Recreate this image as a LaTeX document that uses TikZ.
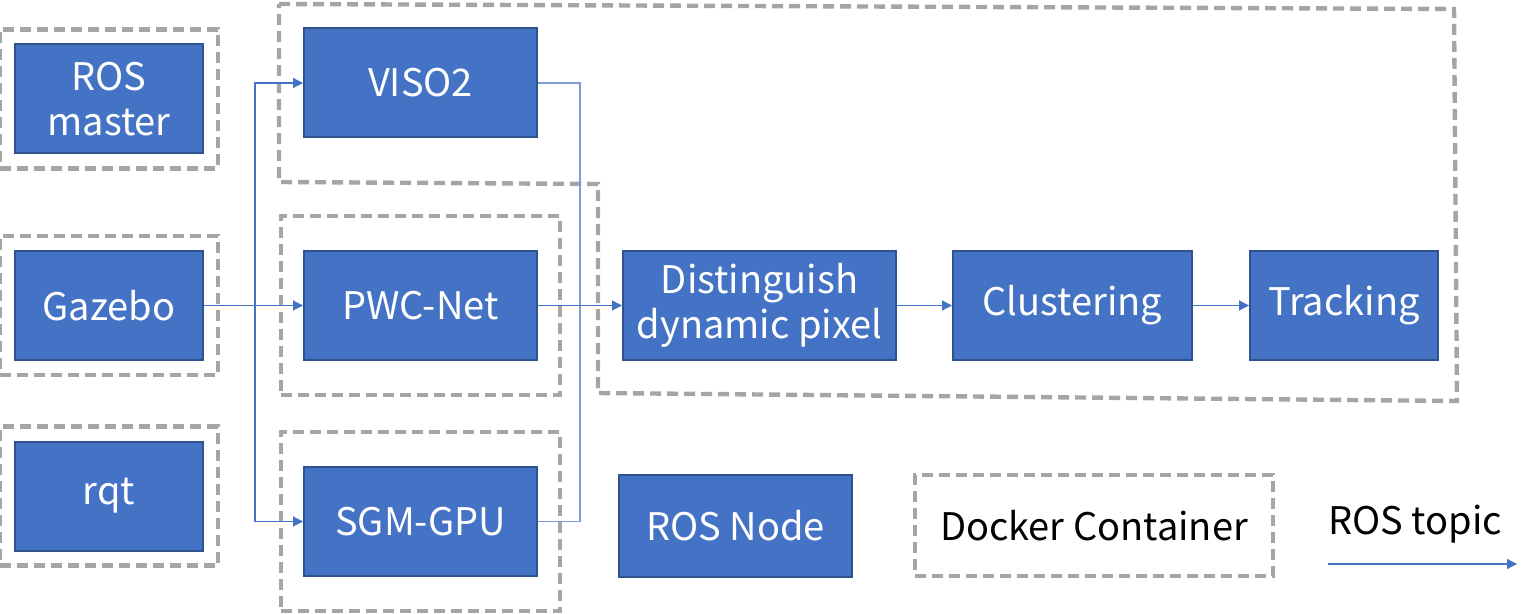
\documentclass[tikz,border=0pt]{standalone}
\usepackage{fontspec}
\setmainfont{Noto Sans CJK JP}
\usepackage{xcolor}
\usepackage{tikz}
\usetikzlibrary{positioning}
\usetikzlibrary{fit}
\usetikzlibrary{arrows.meta}

\definecolor{nodeblue}{HTML}{4472C4}
\definecolor{nodeedge}{HTML}{2F528F}
\definecolor{dockgray}{HTML}{A5A5A5}

\begin{document}
\begin{tikzpicture}[x=0.5pt,y=-0.5pt,
  rosnode/.style={draw=nodeedge, fill=nodeblue, text=white, line width=1pt, inner sep=0pt, align=center, minimum height=54.5pt, font=\fontsize{19}{22.5}\selectfont},
  docker/.style={draw=dockgray, line width=2.2pt, dash pattern=on 5.5pt off 3pt},
  topic/.style={draw=nodeblue, line width=0.6pt, -{Triangle[length=5pt,width=5pt]}},
  link/.style={draw=nodeblue!70, line width=0.6pt}]

\useasboundingbox (0,0) rectangle (1530,614);

% Left column
\node [rosnode, minimum width=94pt] (master) at (109,99) {ROS\\master};
\node [rosnode, minimum width=94pt] (gazebo) at (109,305.5) {Gazebo};
\node [rosnode, minimum width=94pt] (rqt) at (109,496) {rqt};

% Middle column
\node [rosnode, minimum width=116.5pt] (viso) at (420.5,83) {VISO2};
\node [rosnode, minimum width=116.5pt] (pwc) at (420.5,305.5) {PWC-Net};
\node [rosnode, minimum width=116.5pt] (sgm) at (420.5,521.5) {SGM-GPU};

% Chain
\node [rosnode, minimum width=136.5pt] (dist) at (759.5,305.5) {Distinguish\\dynamic pixel};
\node [rosnode, minimum width=119.5pt, right=27.5pt of dist] (clus) {Clustering};
\node [rosnode, minimum width=94pt, right=28pt of clus] (track) {Tracking};

% Containers
\node [docker, fit=(master), inner xsep=7pt, inner ysep=7pt] (masterbox) {};
\node [docker, fit=(gazebo), inner xsep=7pt, inner ysep=7pt] (gazebobox) {};
\node [docker, fit=(rqt), inner xsep=7pt, inner ysep=7pt] (rqtbox) {};
\node [docker, fit=(pwc), inner xsep=11pt, inner ysep=17pt] (pwcbox) {};
\node [docker, fit=(sgm), inner xsep=11pt, inner ysep=17pt] (sgmbox) {};
\draw [docker] (279,4) -- (1454,9) -- (1457,401) -- (598,393) -- (598,184) -- (279,182) -- cycle;

% Topics
\coordinate (fork) at (255,305.5);
\coordinate (merge) at (580,305.5);
\draw [topic] (gazebo) -- (pwc);
\draw [topic] (fork) |- (viso.west);
\draw [topic] (fork) |- (sgm.west);
\draw [link] (viso.east) -| (merge);
\draw [link] (sgm.east) -| (merge);
\draw [topic] (pwc) -- (dist);
\draw [topic] (dist) -- (clus);
\draw [topic] (clus) -- (track);

% Legend
\node [rosnode, minimum width=116.5pt, minimum height=51pt] (legnode) at (735.5,526) {ROS Node};
\node [docker, minimum width=179pt, minimum height=50.5pt, font=\fontsize{19}{22.5}\selectfont] (legdock) at (1094,525.5) {Docker Container};
\node [font=\fontsize{19}{22.5}\selectfont] (legtopic) at (1415,524) {ROS topic};
\coordinate (topicstart) at (1328,564);
\coordinate (topicend) at (1517,564);
\draw [topic] (topicstart) -- (topicend);

\end{tikzpicture}
\end{document}
